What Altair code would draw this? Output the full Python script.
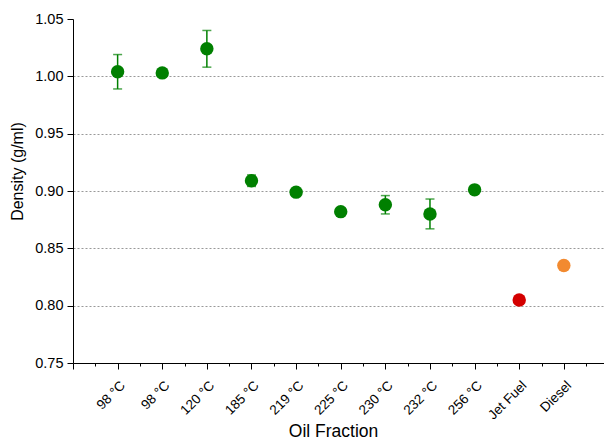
import json
import altair as alt
import pandas as pd

labels = ["98 °C", "98 °C", "120 °C", "185 °C", "219 °C", "225 °C",
          "230 °C", "232 °C", "256 °C", "Jet Fuel", "Diesel"]
density = [1.004, 1.003, 1.024, 0.909, 0.899, 0.882, 0.888, 0.880, 0.901, 0.805, 0.835]
error = [0.015, 0.002, 0.016, 0.005, 0.002, 0.002, 0.008, 0.013, 0.002, 0.0, 0.0]
group = ["sample"] * 9 + ["jet", "diesel"]

df = pd.DataFrame({
    "idx": list(range(1, len(labels) + 1)),
    "label": labels,
    "density": density,
    "err": error,
    "group": group,
})
df["lo"] = df["density"] - df["err"]
df["hi"] = df["density"] + df["err"]

FONT = "Liberation Sans"
x_ticks = [i * 0.5 for i in range(0, 24)]
y_ticks = [round(0.75 + 0.025 * i, 3) for i in range(13)]

x_axis = alt.Axis(
    values=x_ticks,
    labelExpr=json.dumps(labels) + "[datum.value - 1] || ''",
    labelAngle=-45, labelAlign="right", labelBaseline="top",
    labelFontSize=13.5, labelPadding=9,
    tickSize={"condition": {"test": "datum.value % 1 === 0", "value": 6}, "value": 3},
    grid=False, title="Oil Fraction", titleFontSize=17.5, titleFontWeight="normal",
    titleX=260, titleY=73, titleBaseline="alphabetic",
)
y_axis = alt.Axis(
    values=y_ticks,
    labelExpr="round(datum.value*1000) % 50 === 0 ? format(datum.value, '.2f') : ''",
    labelFontSize=14.5, labelPadding=4,
    tickSize={"condition": {"test": "round(datum.value*1000) % 50 === 0", "value": 6}, "value": 3},
    grid=True,
    gridOpacity={"condition": {"test": "round(datum.value*1000) % 50 === 0 && datum.value > 0.76 && datum.value < 1.04", "value": 1}, "value": 0},
    gridDash=[2, 2], gridColor="#999999", gridWidth=1,
    title="Density (g/ml)", titleFontSize=16, titleFontWeight="normal", titlePadding=9,
    titleY=152,
)

x = alt.X("idx:Q", scale=alt.Scale(domain=[0, 11.9], nice=False, zero=False), axis=x_axis)
y = alt.Y("density:Q", scale=alt.Scale(domain=[0.75, 1.05], nice=False, zero=False), axis=y_axis)

color = alt.Color("group:N", scale=alt.Scale(domain=["sample", "jet", "diesel"],
                                             range=["#008000", "#d40000", "#f28a30"]),
                  legend=None)

base = alt.Chart(df)
err_rule = base.transform_filter("datum.err > 0").mark_rule(color="#008000", strokeWidth=1.5).encode(
    x=x, y=alt.Y("lo:Q"), y2="hi:Q")
cap_lo = base.transform_filter("datum.err > 0").mark_tick(color="#008000", orient="horizontal", size=9, thickness=1.5).encode(
    x=x, y=alt.Y("lo:Q"))
cap_hi = base.transform_filter("datum.err > 0").mark_tick(color="#008000", orient="horizontal", size=9, thickness=1.5).encode(
    x=x, y=alt.Y("hi:Q"))
points = base.mark_circle(size=180, opacity=1).encode(x=x, y=y, color=color)

chart = alt.layer(err_rule, cap_lo, cap_hi, points).properties(
    width=531, height=344, autosize="none",
    padding={"left": 73, "top": 19, "right": 0, "bottom": 77},
).configure_view(stroke=None).configure_axis(
    domainColor="black", tickColor="black", labelColor="black", titleColor="black",
    labelFont=FONT, titleFont=FONT, domainWidth=1, tickWidth=1,
)

chart.save("out.html", embed_options={"renderer": "svg", "actions": False})
